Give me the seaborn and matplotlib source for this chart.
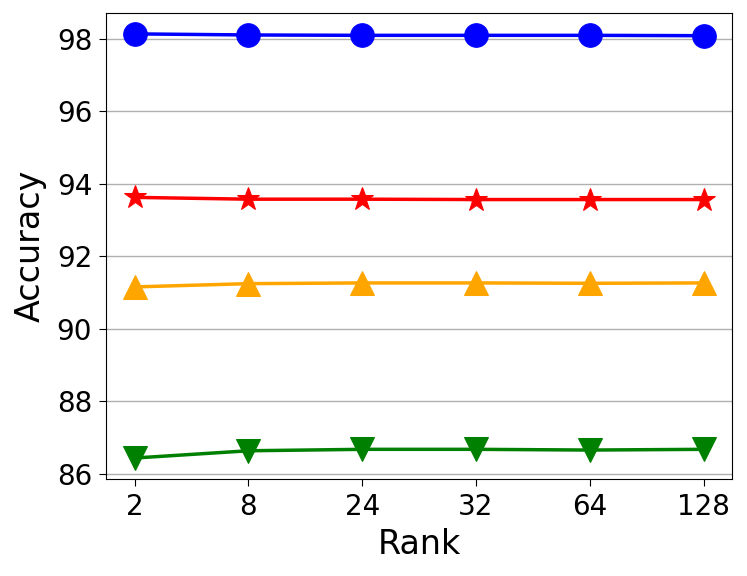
import pandas as pd
import matplotlib
matplotlib.use("Agg")
import matplotlib.pyplot as plt
import seaborn as sns

# --- Dati ---
ranks = ["2", "8", "24", "32", "64", "128"]
blue_acc = [98.14, 98.11, 98.10, 98.10, 98.10, 98.09]
red_acc = [93.63, 93.58, 93.58, 93.57, 93.57, 93.57]
orange_acc = [91.16, 91.25, 91.27, 91.27, 91.26, 91.27]
green_acc = [86.44, 86.64, 86.68, 86.68, 86.66, 86.68]

series = [
    (blue_acc, "blue", "o", 17),
    (red_acc, "red", "*", 17),
    (orange_acc, "orange", "^", 17),
    (green_acc, "green", "v", 17),
]

fig, ax = plt.subplots(figsize=(7.47, 5.76), dpi=100)

for vals, color, marker, ms in series:
    df = pd.DataFrame({"rank": ranks, "acc": vals})
    sns.lineplot(data=df, x="rank", y="acc", color=color, marker=marker,
                 markersize=ms, markeredgecolor=color, linewidth=2.5, ax=ax)

ax.set_yticks([86, 88, 90, 92, 94, 96, 98])
ax.grid(True, axis="y", color="#b0b0b0", linewidth=1)
ax.set_axisbelow(True)
ax.tick_params(labelsize=20, length=5, pad=5)
ax.set_xlabel("Rank", fontsize=24, labelpad=5)
ax.set_ylabel("Accuracy", fontsize=24, labelpad=7)

plt.subplots_adjust(left=0.142, right=0.98, top=0.978, bottom=0.168)
plt.savefig("out.png")
plt.close()
